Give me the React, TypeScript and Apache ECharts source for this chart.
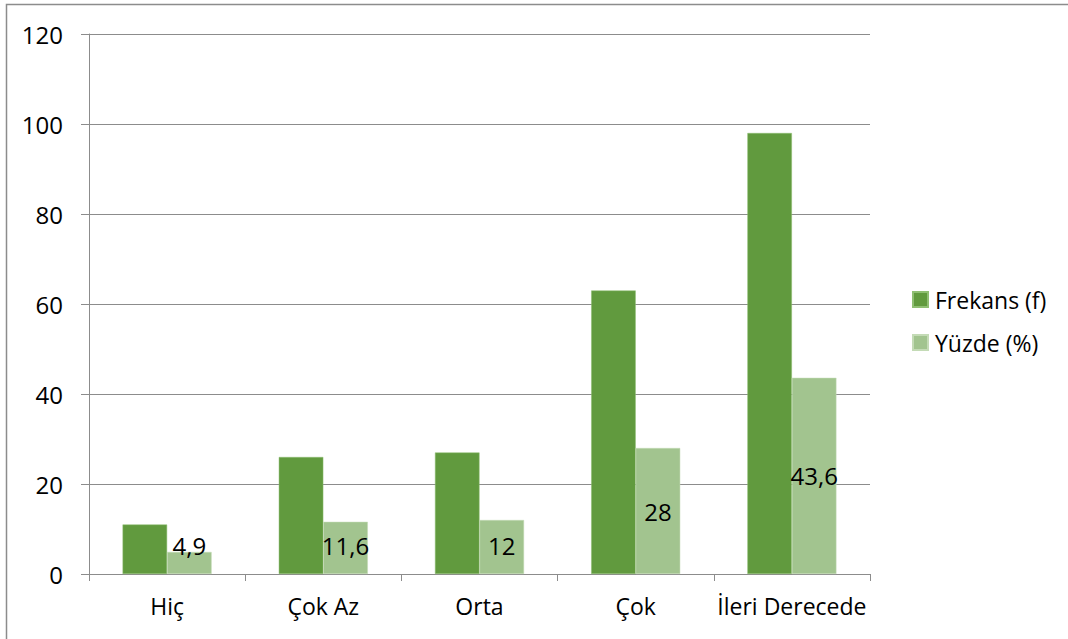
import React, { useEffect, useRef } from "react";
import * as echarts from "echarts";

const categories = ["Hiç", "Çok Az", "Orta", "Çok", "İleri Derecede"];
const frekans = [11, 26, 27, 63, 98];
const yuzde = [4.9, 11.6, 12, 28, 43.6];
const seriesNames = ["Frekans (f)", "Yüzde (%)"];
const yTicks = { min: 0, max: 120, interval: 20 };

const FONT = "'Open Sans', 'Noto Sans', sans-serif";
const FS = 24;

export default function App() {
  const ref = useRef<HTMLDivElement>(null);
  useEffect(() => {
    if (!ref.current) return;
    const chart = echarts.init(ref.current, undefined, { renderer: "svg" });
    const pxPerUnit = 540 / (yTicks.max - yTicks.min);
    chart.setOption({
      animation: false,
      backgroundColor: "#ffffff",
      textStyle: { fontFamily: FONT },
      graphic: [
        {
          type: "rect",
          shape: { x: 6.5, y: 4.5, width: 1200, height: 800 },
          style: { fill: "none", stroke: "#8c8c8c", lineWidth: 1.5 },
          silent: true,
        },
      ],
      grid: { left: 89, right: 198, top: 34, bottom: 65, containLabel: false },
      legend: {
        orient: "vertical",
        left: 907,
        top: 283,
        itemWidth: 15,
        itemHeight: 15,
        itemGap: 20,
        icon: "rect",
        textStyle: { fontFamily: FONT, fontSize: FS - 1, color: "#000", padding: [0, 0, 0, 2] },
        data: seriesNames,
      },
      xAxis: {
        type: "category",
        data: categories,
        axisLine: { lineStyle: { color: "#8c8c8c", width: 1 } },
        axisTick: { show: true, length: 7, lineStyle: { color: "#8c8c8c" } },
        axisLabel: { fontFamily: FONT, fontSize: FS - 1, color: "#000", margin: 20, interval: 0 },
      },
      yAxis: {
        type: "value",
        min: yTicks.min,
        max: yTicks.max,
        interval: yTicks.interval,
        axisLine: { show: true, lineStyle: { color: "#8c8c8c", width: 1 } },
        axisTick: { show: true, length: 8, lineStyle: { color: "#8c8c8c" } },
        splitLine: { lineStyle: { color: "#8c8c8c", width: 1 } },
        axisLabel: { fontFamily: FONT, fontSize: FS, color: "#000", margin: 26 },
      },
      series: [
        {
          name: seriesNames[0],
          type: "bar",
          data: frekans,
          barGap: "0%",
          barCategoryGap: "43%",
          itemStyle: { color: "#619a3e", borderColor: "#8fbf72", borderWidth: 0.5 },
        },
        {
          name: seriesNames[1],
          type: "bar",
          barGap: "0%",
          barCategoryGap: "43%",
          itemStyle: { color: "#a2c48f", borderColor: "#c4dbb6", borderWidth: 0.5 },
          data: yuzde.map((v) => {
            const half = (v * pxPerUnit) / 2;
            const minHalf = 29;
            const shift = half < minHalf ? -(minHalf - half) : 0;
            return { value: v, label: { offset: [0, shift] } };
          }),
          label: {
            show: true,
            position: "inside",
            fontFamily: FONT,
            fontSize: FS,
            color: "#000",
            formatter: (p: any) => String(p.value).replace(".", ","),
          },
        },
      ],
    });
    return () => chart.dispose();
  }, []);
  return (
    <div
      ref={ref}
      style={{ position: "absolute", left: 0, top: 0, width: 1068, height: 639 }}
    />
  );
}
